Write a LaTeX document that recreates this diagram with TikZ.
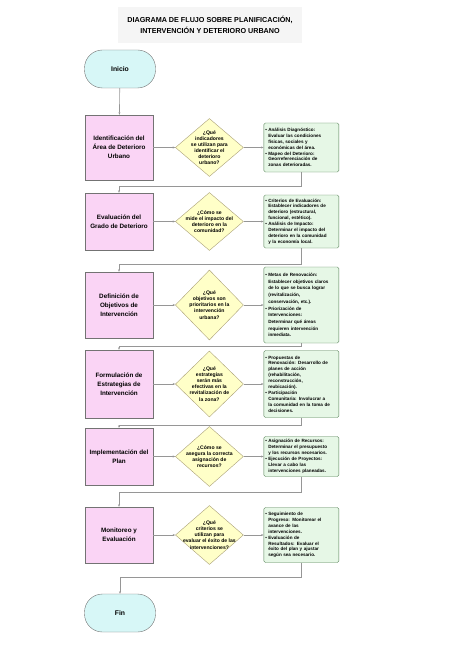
\documentclass[tikz,border=0pt]{standalone}
\usepackage{fontspec}
\setmainfont{Liberation Sans}
\usetikzlibrary{shapes,arrows,positioning,arrows.meta}
\definecolor{stepfill}{RGB}{250,212,245}
\definecolor{qfill}{RGB}{255,255,200}
\definecolor{notefill}{RGB}{230,247,230}
\definecolor{termfill}{RGB}{215,247,247}
\definecolor{linegray}{RGB}{150,150,150}
\definecolor{notedraw}{RGB}{80,125,80}
\definecolor{qdraw}{RGB}{170,160,120}
\newcommand{\bul}{\makebox[3pt][l]{\textbullet}}
\newcommand{\ind}{\hspace*{3pt}}

\begin{document}
\begin{tikzpicture}[
    x=1pt, y=1pt,
    titlebox/.style={fill=black!4, minimum width=184pt, minimum height=36pt, align=center, font=\fontsize{7.2}{10.5}\selectfont\bfseries},
    term/.style={draw=gray!90!black, fill=termfill, rounded corners=18pt, minimum width=71pt, minimum height=38pt, font=\fontsize{6.8}{8}\selectfont\bfseries},
    stepbox/.style={draw=gray!90!black, fill=stepfill, minimum width=68pt, align=center, font=\fontsize{6.3}{9}\selectfont\bfseries},
    decision/.style={diamond, draw=qdraw, fill=qfill, minimum width=68pt, inner sep=0pt},
    qtext/.style={align=center, inner sep=0pt, font=\fontsize{5.1}{6.1}\selectfont\bfseries},
    note/.style={draw=notedraw, fill=notefill, rounded corners=1.5pt, text width=72pt, inner sep=1.5pt, align=left, font=\fontsize{4.6}{5.9}\selectfont\bfseries},
    arrow/.style={-{Stealth[length=2.5pt,width=2pt]}, draw=linegray, line width=0.6pt},
    node distance=20pt
]
\useasboundingbox (0,0) rectangle (474,-671);

% ========== TITLE ==========
\node[titlebox] (title) at (210,-25) {DIAGRAMA DE FLUJO SOBRE PLANIFICACIÓN,\\INTERVENCIÓN Y DETERIORO URBANO};

% ========== START ==========
\node[term] (start) at (120,-69) {Inicio};

% ========== ROW 1 ==========
\node[stepbox, minimum height=65pt] (s1) at (119,-147.5) {Identificación del\\Área de Deterioro\\Urbano};
\node[decision, minimum height=58pt, right=22pt of s1] (q1) {};
\node[qtext] (q1t) at (q1) {¿Qué\\indicadores\\se utilizan para\\identificar el\\deterioro\\urbano?};
\node[note, minimum height=49pt, right=20pt of q1] (n1) {%
    \bul Análisis Diagnóstico:\\
    \ind Evaluar las condiciones\\
    \ind físicas, sociales y\\
    \ind económicas del área.\\
    \bul Mapeo del Deterioro:\\
    \ind Georreferenciación de\\
    \ind zonas deterioradas.};

\draw[arrow] (start) -- (s1);
\draw[arrow] (s1) -- (q1);
\draw[arrow] (q1) -- (n1);

% ========== ROW 2 ==========
\node[stepbox, minimum height=57pt] (s2) at (119,-221.5) {Evaluación del\\Grado de Deterioro};
\node[decision, minimum height=58pt, right=22pt of s2] (q2) {};
\node[qtext] (q2t) at (q2) {¿Cómo se\\mide el impacto del\\deterioro en la\\comunidad?};
\node[note, minimum height=53pt, right=20pt of q2] (n2) {%
    \bul Criterios de Evaluación:\\
    \ind Establecer indicadores de\\
    \ind deterioro (estructural,\\
    \ind funcional, estético).\\
    \bul Análisis de Impacto:\\
    \ind Determinar el impacto del\\
    \ind deterioro en la comunidad\\
    \ind y la economía local.};

\draw[arrow] (n1.south) -- ++(0,-14) -| (s2.north);
\draw[arrow] (s2) -- (q2);
\draw[arrow] (q2) -- (n2);

% ========== ROW 3 ==========
\node[stepbox, minimum height=66pt] (s3) at (119,-305) {Definición de\\Objetivos de\\Intervención};
\node[decision, minimum height=70pt, right=22pt of s3] (q3) {};
\node[qtext] (q3t) at (q3) {¿Qué\\objetivos son\\prioritarios en la\\intervención\\urbana?};
\node[note, minimum height=76pt, right=20pt of q3, font=\fontsize{4.6}{6.7}\selectfont\bfseries] (n3) {%
    \bul Metas de Renovación:\\
    \ind Establecer objetivos claros\\
    \ind de lo que se busca lograr\\
    \ind (revitalización,\\
    \ind conservación, etc.).\\
    \bul Priorización de\\
    \ind Intervenciones:\\
    \ind Determinar qué áreas\\
    \ind requieren intervención\\
    \ind inmediata.};

\draw[arrow] (n2.south) -- ++(0,-16) -| (s3.north);
\draw[arrow] (s3) -- (q3);
\draw[arrow] (q3) -- (n3);

% ========== ROW 4 ==========
\node[stepbox, minimum height=68pt] (s4) at (119,-384) {Formulación de\\Estrategias de\\Intervención};
\node[decision, minimum height=66pt, right=22pt of s4] (q4) {};
\node[qtext] (q4t) at (q4) {¿Qué\\estrategias\\serán más\\efectivas en la\\revitalización de\\la zona?};
\node[note, minimum height=67pt, right=20pt of q4] (n4) {%
    \bul Propuestas de\\
    \ind Renovación: Desarrollo de\\
    \ind planes de acción\\
    \ind (rehabilitación,\\
    \ind reconstrucción,\\
    \ind reubicación).\\
    \bul Participación\\
    \ind Comunitaria: Involucrar a\\
    \ind la comunidad en la toma de\\
    \ind decisiones.};

\draw[arrow] (n3.south) -- ++(0,-3) -| (s4.north);
\draw[arrow] (s4) -- (q4);
\draw[arrow] (q4) -- (n4);

% ========== ROW 5 ==========
\node[stepbox, minimum height=57pt] (s5) at (119,-456.5) {Implementación del\\Plan};
\node[decision, minimum height=60pt, right=22pt of s5] (q5) {};
\node[qtext] (q5t) at (q5) {¿Cómo se\\asegura la correcta\\asignación de\\recursos?};
\node[note, minimum height=40pt, right=20pt of q5] (n5) {%
    \bul Asignación de Recursos:\\
    \ind Determinar el presupuesto\\
    \ind y los recursos necesarios.\\
    \bul Ejecución de Proyectos:\\
    \ind Llevar a cabo las\\
    \ind intervenciones planeadas.};

\draw[arrow] (n4.south) -- ++(0,-8) -| (s5.north);
\draw[arrow] (s5) -- (q5);
\draw[arrow] (q5) -- (n5);

% ========== ROW 6 ==========
\node[stepbox, minimum height=56pt] (s6) at (119,-535) {Monitoreo y\\Evaluación};
\node[decision, minimum height=59pt, right=22pt of s6] (q6) {};
\node[qtext] (q6t) at (q6) {¿Qué\\criterios se\\utilizan para\\evaluar el éxito de las\\intervenciones?};
\node[note, minimum height=55pt, right=20pt of q6] (n6) {%
    \bul Seguimiento de\\
    \ind Progreso: Monitorear el\\
    \ind avance de las\\
    \ind intervenciones.\\
    \bul Evaluación de\\
    \ind Resultados: Evaluar el\\
    \ind éxito del plan y ajustar\\
    \ind según sea necesario.};

\draw[arrow] (n5.south) -- ++(0,-16) -| (s6.north);
\draw[arrow] (s6) -- (q6);
\draw[arrow] (q6) -- (n6);

% ========== END ==========
\node[term] (fin) at (120,-613) {Fin};
\draw[arrow] (n6.south) -- ++(0,-15) -| (fin.north);

\end{tikzpicture}
\end{document}
